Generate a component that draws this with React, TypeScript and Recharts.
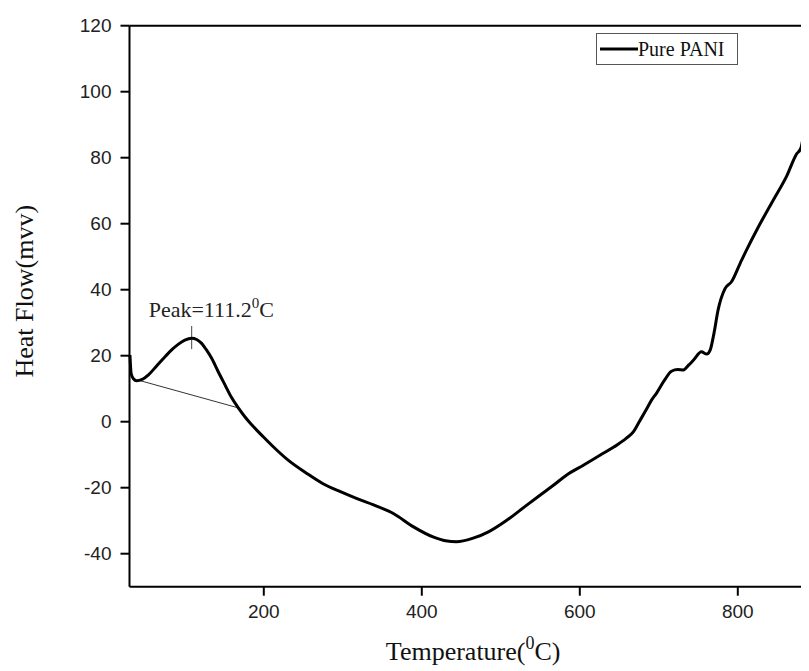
import React from 'react';
import {
  LineChart, Line, XAxis, YAxis, ReferenceLine, ReferenceDot, Legend, Label,
} from 'recharts';

// DSC trace of pure PANI
const temperature = [
  30.6, 32, 35, 39, 46, 54, 64, 75, 84, 92, 100, 108.7, 115, 121, 127, 134, 142, 151, 159, 168,
  176, 185, 199, 212, 230, 254, 275, 297, 318, 339, 364, 389, 415, 430, 444, 465, 485, 508, 530, 550,
  567, 583, 605, 626, 643, 659, 668, 676, 684, 691, 697, 707, 716, 724, 731, 738, 744, 754, 760.6, 765,
  770, 775, 784, 792, 803, 811, 824, 845, 862, 874, 880, 887, 895,
];
const heatFlow = [
  20.2, 14.7, 13.0, 12.4, 12.8, 14.2, 16.8, 19.7, 21.9, 23.5, 24.7, 25.3, 24.9, 23.8, 21.9, 19.2, 15.3, 11.1, 7.4, 4.1,
  1.5, -1, -4.5, -7.6, -11.5, -15.6, -18.8, -21.2, -23.3, -25.2, -27.8, -31.8, -35, -36.1, -36.4, -35.3, -33.3, -29.8, -25.8, -22.2,
  -19.2, -16.2, -13.1, -10.1, -7.7, -5, -3, 0.3, 3.6, 6.6, 8.6, 12.5, 15.3, 15.8, 15.7, 17.2, 18.7, 21.2, 20.5, 21.7,
  27, 33.8, 40.4, 42.4, 48, 52, 58.1, 67.2, 74.5, 81, 83, 93, 100,
];

const xTicks = [200, 400, 600, 800];
const yTicks = [-40, -20, 0, 20, 40, 60, 80, 100, 120];

// peak marker and the integration baseline
const peakT = 108.7;
const peakMark = [22, 29];
const baselineStart = { t: 41, v: 12.6 };
const baselineEnd = { t: 166, v: 4.3 };

const data = temperature.map((t, i) => ({ t, v: heatFlow[i] }));

const SANS = '"Liberation Sans", Arial, sans-serif';
const SERIF = '"Liberation Serif", "Times New Roman", serif';

const XTitle = (props: any) => {
  const vb = props.viewBox || { x: 0, y: 0, width: 0, height: 0 };
  const cx = vb.x + vb.width / 2;
  return (
    <text x={cx} y={vb.y + 73} textAnchor="middle" fontFamily={SERIF} fontSize={26} fill="#111">
      <tspan>Temperature(</tspan>
      <tspan dy={-11} fontSize={18}>0</tspan>
      <tspan dy={11}>C)</tspan>
    </text>
  );
};

const YTitle = (props: any) => {
  const vb = props.viewBox || { x: 0, y: 0, width: 0, height: 0 };
  const x = 25;
  const y = vb.y + vb.height / 2 - 15;
  return (
    <text x={x} y={y} transform={`rotate(-90, ${x}, ${y})`} textAnchor="middle" fontFamily={SERIF} fontSize={26} fill="#111">
      Heat Flow(mvv)
    </text>
  );
};

const PeakLabel = (props: any) => {
  const vb = props.viewBox || { x: 0, y: 0 };
  return (
    <text x={vb.x - 43} y={vb.y - 9} fontFamily={SERIF} fontSize={22} fill="#222">
      <tspan>Peak=111.2</tspan>
      <tspan dy={-9} fontSize={15}>0</tspan>
      <tspan dy={9}>C</tspan>
    </text>
  );
};

const LegendBox = () => (
  <div style={{
    width: 142, height: 32, boxSizing: 'border-box', border: '1px solid #555', background: '#fff',
    display: 'flex', alignItems: 'center', paddingLeft: 3,
  }}>
    <svg width={38} height={6}><line x1={0} y1={3} x2={38} y2={3} stroke="#000" strokeWidth={3} /></svg>
    <span style={{ fontFamily: SERIF, fontSize: 20, color: '#111', lineHeight: '20px' }}>Pure PANI</span>
  </div>
);

export default function App() {
  return (
    <div style={{ width: 801, height: 663, overflow: 'hidden', background: '#fff' }}>
      <LineChart width={840} height={663} data={data} margin={{ top: 17.7, right: 31.2, left: 0, bottom: 0 }}>
        <XAxis
          type="number" dataKey="t" domain={[30, 900]} ticks={xTicks} height={84.3}
          axisLine={{ stroke: '#000', strokeWidth: 2 }} tickLine={{ stroke: '#000', strokeWidth: 2 }}
          tickSize={9} tickMargin={9} tick={{ fill: '#222', fontSize: 19, fontFamily: SANS }}
        >
          <Label content={<XTitle />} />
        </XAxis>
        <YAxis
          type="number" domain={[-50, 120]} ticks={yTicks} width={121.5}
          axisLine={{ stroke: '#000', strokeWidth: 2 }} tickLine={{ stroke: '#000', strokeWidth: 2 }}
          tickSize={9} tickMargin={9} tick={{ fill: '#222', fontSize: 19, fontFamily: SANS }}
        >
          <Label content={<YTitle />} />
        </YAxis>
        <ReferenceLine y={120} stroke="#000" strokeWidth={2} />
        <ReferenceLine
          segment={[{ x: baselineStart.t, y: baselineStart.v }, { x: baselineEnd.t, y: baselineEnd.v }]}
          stroke="#333" strokeWidth={1}
        />
        <ReferenceLine
          segment={[{ x: peakT, y: peakMark[0] }, { x: peakT, y: peakMark[1] }]}
          stroke="#444" strokeWidth={1}
        />
        <ReferenceDot x={peakT} y={peakMark[1]} r={0} fill="none" stroke="none" label={<PeakLabel />} />
        <Legend
          layout="horizontal" verticalAlign="middle" align="center"
          wrapperStyle={{ left: 588, top: 25, width: 142 }}
          content={<LegendBox />}
        />
        <Line
          type="monotone" dataKey="v" name="Pure PANI" stroke="#000" strokeWidth={3}
          dot={false} isAnimationActive={false}
        />
      </LineChart>
    </div>
  );
}
